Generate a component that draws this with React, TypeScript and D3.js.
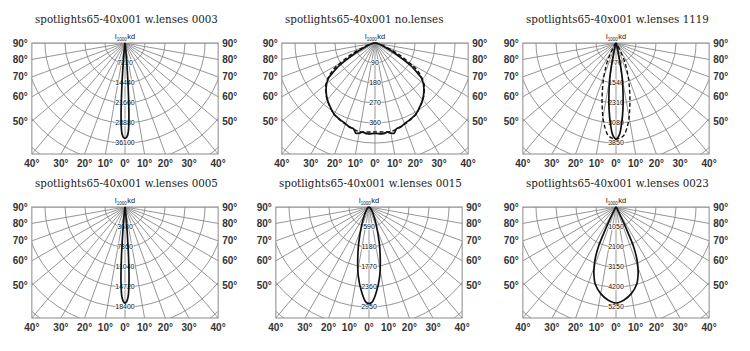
import * as d3 from 'd3';

// panel titles and ring labels (cd)
const titles = [
  'spotlights65-40x001 w.lenses 0003',
  'spotlights65-40x001 no.lenses',
  'spotlights65-40x001 w.lenses 1119',
  'spotlights65-40x001 w.lenses 0005',
  'spotlights65-40x001 w.lenses 0015',
  'spotlights65-40x001 w.lenses 0023',
];
const rings0003 = [7220, 14440, 21660, 28880, 36100];
const ringsNoLens = [90, 180, 270, 360, 450];
const rings1119 = [770, 1540, 2310, 3080, 3850];
const rings0005 = [3680, 7360, 11040, 14720, 18400];
const rings0015 = [590, 1180, 1770, 2360, 2950];
const rings0023 = [1050, 2100, 3150, 4200, 5250];

// intensity curves: gamma angle (deg) -> cd, mirrored left/right
const ang0003 = [0, 1, 2, 3, 4, 5, 6, 8, 10, 90];
const cd0003 = [34400, 34000, 32500, 27000, 17000, 8000, 3000, 800, 200, 0];

const angNoLens = [0, 5, 8, 10, 12, 14, 17, 20, 25, 30, 35, 40, 45, 50, 53, 55, 57, 60, 63, 65, 70, 80, 90];
const cdNoLens = [407, 410, 405, 412, 415, 398, 395, 387, 378, 369, 351, 333, 311, 284, 261, 230, 203, 140, 99, 74, 36, 13, 0];
const angNoLensB = [0, 5, 10, 15, 20, 25, 30, 35, 40, 45, 50, 55, 58, 60, 63, 65, 68, 70, 75, 80, 90];
const cdNoLensB = [400, 402, 405, 398, 389, 380, 370, 352, 335, 313, 288, 248, 215, 180, 135, 108, 72, 52, 25, 12, 0];

const ang1119 = [0, 2, 4, 6, 8, 10, 11, 12, 13, 15, 20, 30, 90];
const cd1119 = [3700, 3550, 3100, 2560, 1950, 1400, 1050, 620, 350, 150, 60, 20, 0];
const ang1119B = [0, 3, 5, 8, 10, 12, 14, 16, 18, 20, 22, 24, 26, 28, 30, 35, 40, 90];
const cd1119B = [3700, 3650, 3560, 3210, 2900, 2550, 2220, 1900, 1620, 1370, 1100, 900, 670, 400, 250, 100, 50, 0];

const ang0005 = [0, 1, 2, 3, 4, 5, 6, 8, 10, 90];
const cd0005 = [17700, 17400, 16500, 14000, 9500, 4500, 1800, 500, 100, 0];

const ang0015 = [0, 2, 5, 9, 12, 16, 22, 30, 40, 50, 60, 90];
const cd0015 = [2850, 2800, 2510, 2040, 1600, 1100, 570, 270, 120, 60, 30, 0];

const ang0023 = [0, 5, 10, 15, 18, 20, 22, 24, 25, 26, 27, 28, 30, 35, 40, 50, 60, 90];
const cd0023 = [5040, 4900, 4620, 4200, 3750, 3360, 2900, 2250, 1500, 900, 500, 300, 180, 100, 60, 30, 15, 0];

const sideLabels = [90, 80, 70, 60, 50];
const bottomLabels = [-40, -30, -20, -10, 0, 10, 20, 30, 40];

type Curve = { ang: number[]; cd: number[]; dashed?: boolean };

const panels: { cx: number; top: number; rings: number[]; showRings: number; curves: Curve[] }[] = [
  { cx: 125, top: 43, rings: rings0003, showRings: 5, curves: [{ ang: ang0003, cd: cd0003 }] },
  { cx: 375, top: 43, rings: ringsNoLens, showRings: 4, curves: [{ ang: angNoLensB, cd: cdNoLensB, dashed: true }, { ang: angNoLens, cd: cdNoLens }] },
  { cx: 616, top: 43, rings: rings1119, showRings: 5, curves: [{ ang: ang1119B, cd: cd1119B, dashed: true }, { ang: ang1119, cd: cd1119 }] },
  { cx: 125, top: 207, rings: rings0005, showRings: 5, curves: [{ ang: ang0005, cd: cd0005 }] },
  { cx: 369, top: 207, rings: rings0015, showRings: 5, curves: [{ ang: ang0015, cd: cd0015 }] },
  { cx: 616, top: 207, rings: rings0023, showRings: 5, curves: [{ ang: ang0023, cd: cd0023 }] },
];

const H = 111;
const HW = H * Math.tan((40 * Math.PI) / 180);
const rad = (d: number) => (d * Math.PI) / 180;
const GRID = '#8a8a8a';

function Panel({ idx, cx, top, rings, showRings, curves }: any) {
  const left = cx - HW;
  const right = cx + HW;
  const bottom = top + H;
  const r = d3.scaleLinear().domain([0, rings[rings.length - 1]]).range([0, 100]);
  const ringStep = rings[0];
  const gridRings = d3.range(1, 8).map((k) => k * ringStep);
  const spokes = d3.range(-90, 91, 10);
  const line = d3
    .lineRadial<[number, number]>()
    .angle((d) => Math.PI - rad(d[0]))
    .radius((d) => r(d[1]))
    .curve(d3.curveCatmullRom.alpha(0.5));
  const clipId = `clip${idx}`;

  return (
    <g>
      <defs>
        <clipPath id={clipId}>
          <rect x={left} y={top} width={HW * 2} height={H} />
        </clipPath>
      </defs>
      <text x={cx - 90} y={top - 20} fontFamily="DejaVu Serif" fontSize={10.3} fill="#222">
        {titles[idx]}
      </text>
      <g clipPath={`url(#${clipId})`} stroke={GRID} strokeWidth={0.9} fill="none">
        {gridRings.map((v) => (
          <circle key={v} cx={cx} cy={top} r={r(v)} />
        ))}
        {spokes.map((s) => (
          <line key={s} x1={cx} y1={top} x2={cx + 220 * Math.sin(rad(s))} y2={top + 220 * Math.cos(rad(s))} />
        ))}
      </g>
      <rect x={left} y={top} width={HW * 2} height={H} fill="none" stroke={GRID} strokeWidth={1} />
      {rings.slice(0, showRings).map((v: number) => (
        <text key={v} x={cx} y={top + r(v)} dy="0.35em" textAnchor="middle"
          fontFamily="Liberation Sans Narrow, Liberation Sans" fontSize={7} fill="#111"
          stroke="#fff" strokeWidth={1.4} paintOrder="stroke">
          {v}
        </text>
      ))}
      {curves.map((c: Curve, i: number) => {
        const pts: [number, number][] = [
          ...c.ang.map((a, j) => [-a, c.cd[j]] as [number, number]).reverse(),
          ...c.ang.slice(1).map((a, j) => [a, c.cd[j + 1]] as [number, number]),
        ];
        return (
          <path key={i} d={line(pts) || ''} transform={`translate(${cx},${top})`} fill="none" stroke="#111"
            strokeWidth={c.dashed ? 1.4 : 1.7} strokeDasharray={c.dashed ? '4,2.5' : undefined} />
        );
      })}
      <text x={cx} y={top - 4} textAnchor="middle" fontFamily="Liberation Sans" fontSize={7.5} fill="#222">
        I<tspan fontSize={4.5} dy={2}>1000</tspan><tspan dy={-2} dx={0.5}>kd</tspan>
      </text>
      {sideLabels.map((g) => {
        const y = top + HW * Math.tan(rad(90 - g));
        return (
          <g key={g} fontFamily="Liberation Sans" fontWeight="bold" fontSize={10} fill="#333">
            <text x={left - 4} y={y} dy="0.35em" textAnchor="end">{g}°</text>
            <text x={right + 4} y={y} dy="0.35em">{g}°</text>
          </g>
        );
      })}
      {bottomLabels.map((g) => (
        <text key={g} x={cx + H * Math.tan(rad(g))} y={bottom + 9.5} dy="0.35em" textAnchor="middle"
          fontFamily="Liberation Sans" fontWeight="bold" fontSize={10} fill="#333">
          {Math.abs(g)}°
        </text>
      ))}
    </g>
  );
}

export default function App() {
  return (
    <svg width={750} height={351} style={{ position: 'absolute', left: 0, top: 0, background: '#fff' }}>
      <rect width={750} height={351} fill="#fff" />
      {panels.map((p, i) => (
        <Panel key={i} idx={i} {...p} />
      ))}
    </svg>
  );
}
